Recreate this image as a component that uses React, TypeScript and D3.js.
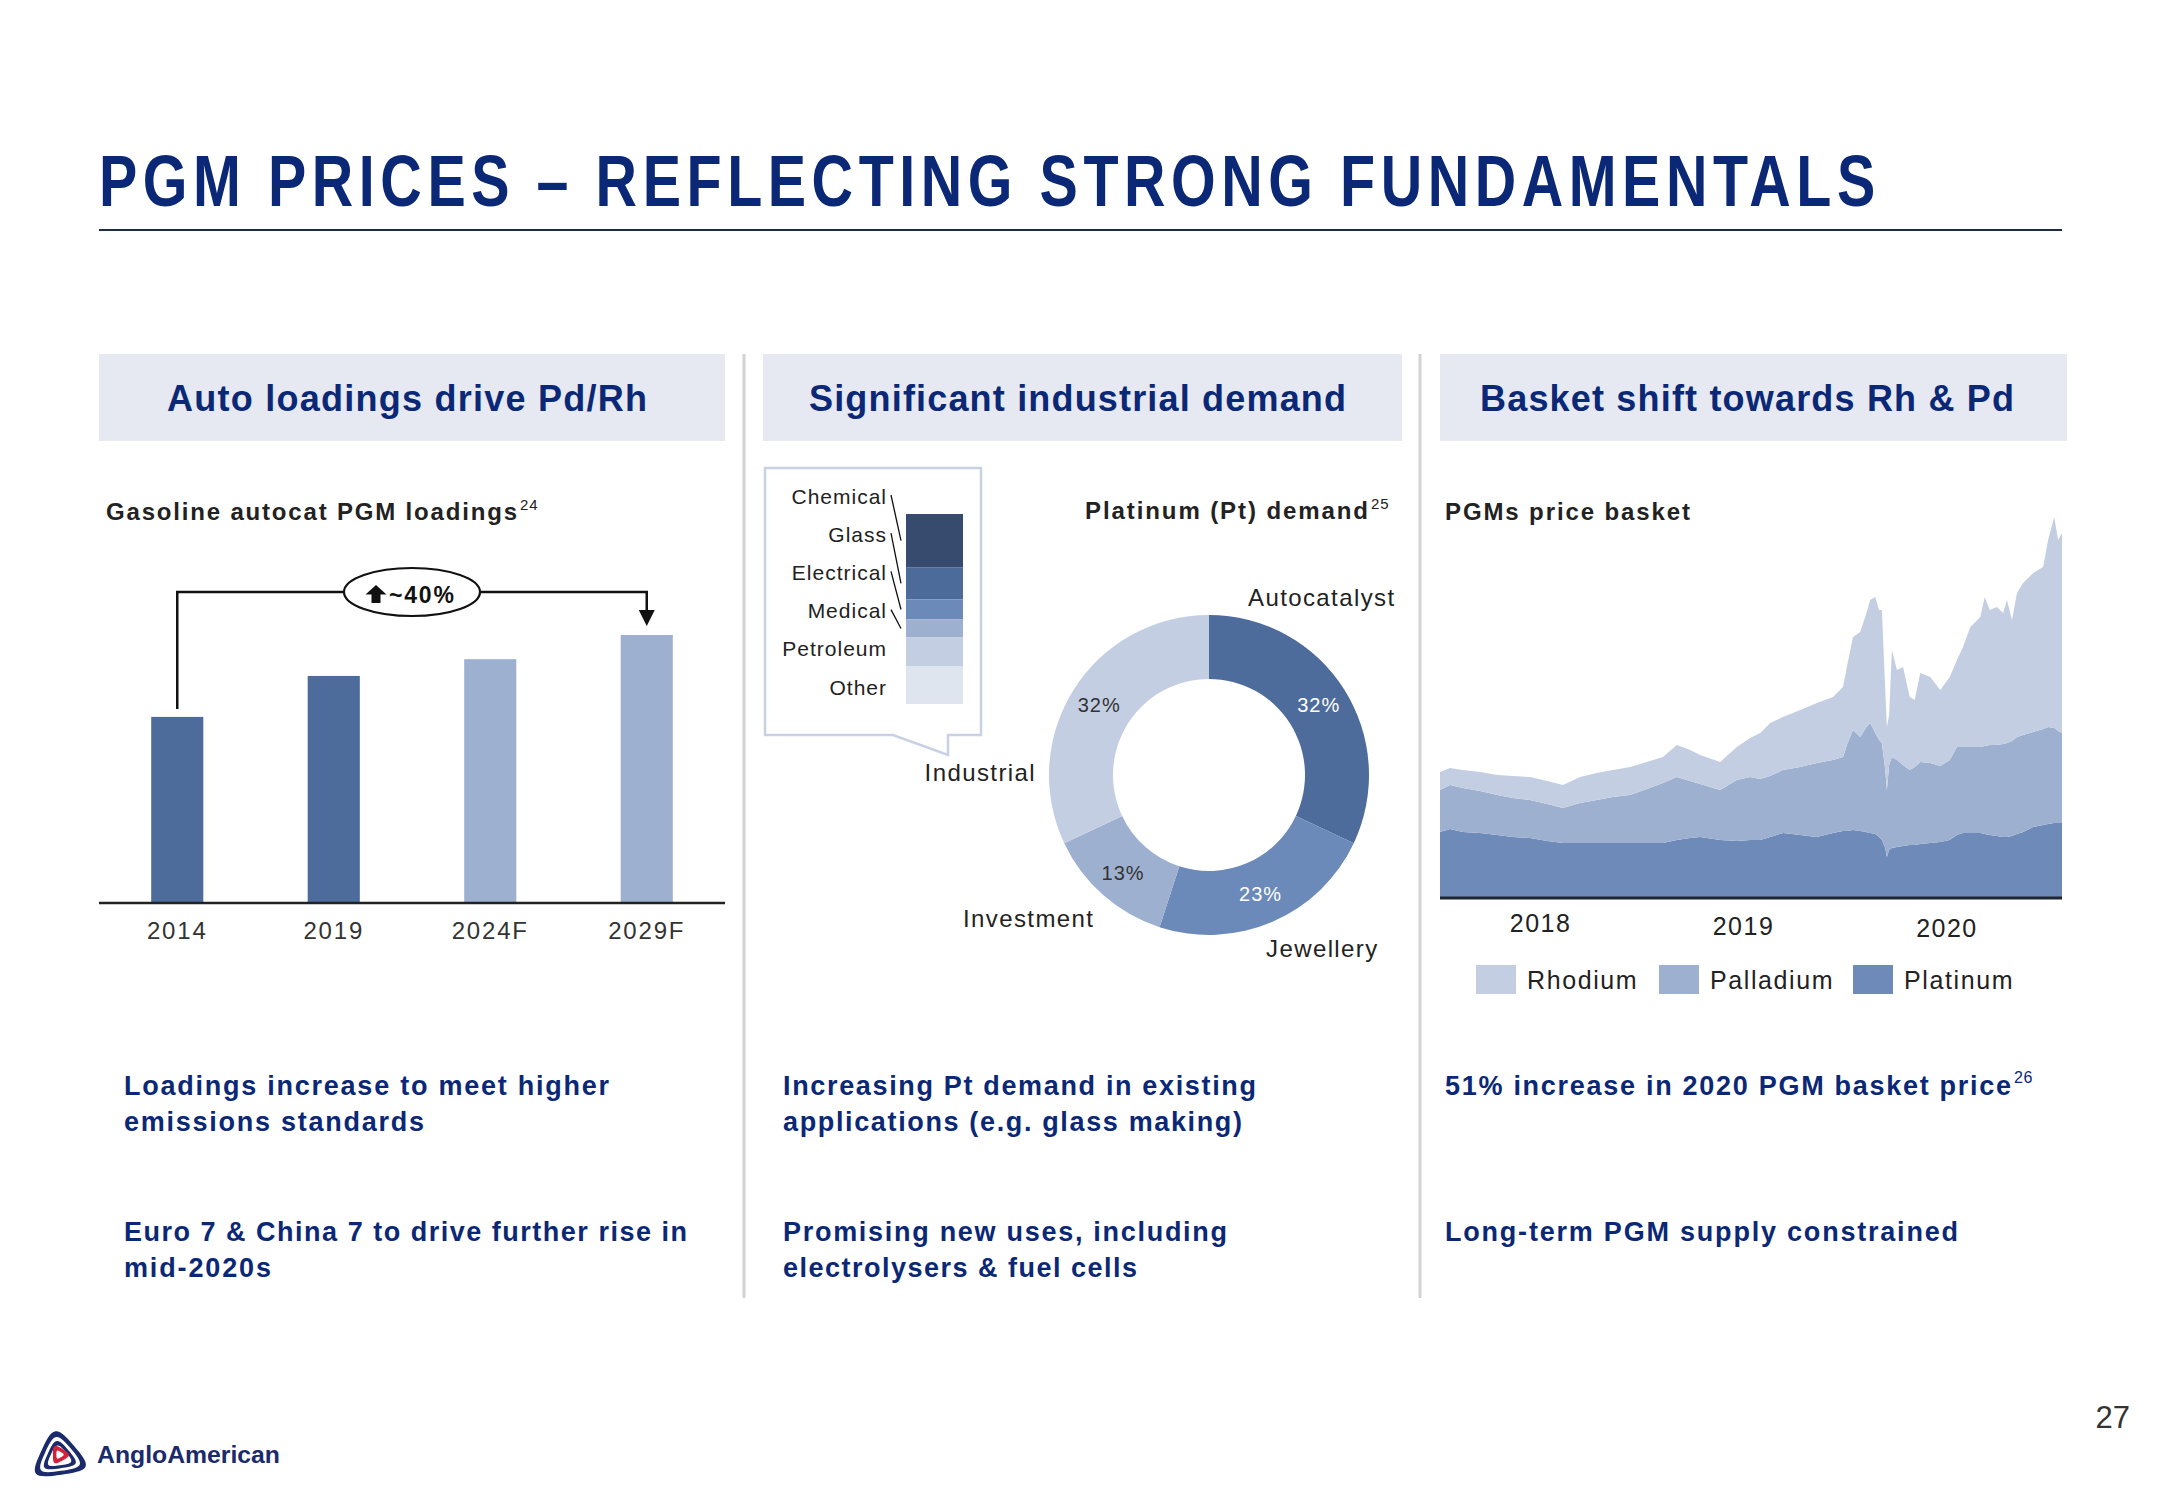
import React from 'react';
import * as d3 from 'd3';

// ---------------- DATA ----------------
const loadingYears = ['2014', '2019', '2024F', '2029F'];
const loadingIndex = [100, 122, 131, 144];
const loadingForecast = [false, false, true, true];
const loadingChangeLabel = '~40%';

const ptDemandCats = ['Autocatalyst', 'Jewellery', 'Investment', 'Industrial'];
const ptDemandShare = [32, 23, 13, 32];

const industrialCats = ['Chemical', 'Glass', 'Electrical', 'Medical', 'Petroleum', 'Other'];
const industrialShare = [28, 17, 10.5, 9.5, 15, 20];

const basketDates = [
  '2018-01-01', '2018-01-19', '2018-02-11', '2018-03-14', '2018-04-14', '2018-05-12', '2018-06-12', '2018-07-13', '2018-08-10', '2018-09-10',
  '2018-10-10', '2018-11-08', '2018-12-09', '2019-01-08', '2019-02-06', '2019-03-03', '2019-03-27', '2019-04-14', '2019-05-20', '2019-06-19',
  '2019-07-13', '2019-07-31', '2019-08-18', '2019-09-10', '2019-10-11', '2019-11-10', '2019-12-09', '2019-12-27', '2020-01-03', '2020-01-14',
  '2020-01-27', '2020-02-06', '2020-02-14', '2020-02-23', '2020-03-01', '2020-03-06', '2020-03-12', '2020-03-15', '2020-03-19', '2020-03-24',
  '2020-04-02', '2020-04-13', '2020-04-25', '2020-05-04', '2020-05-14', '2020-06-01', '2020-06-19', '2020-07-06', '2020-07-19', '2020-07-30',
  '2020-08-12', '2020-08-30', '2020-09-07', '2020-09-16', '2020-09-29', '2020-10-10', '2020-10-17', '2020-10-26', '2020-11-04', '2020-11-15',
  '2020-12-03', '2020-12-21', '2020-12-30', '2021-01-10', '2021-01-17', '2021-01-24',
];
const platinum = [
  660, 690, 660, 650, 630, 610, 600, 570, 550, 550,
  550, 550, 550, 550, 550, 580, 600, 610, 580, 570,
  580, 580, 610, 650, 630, 610, 650, 670, 670, 680,
  670, 660, 650, 640, 610, 580, 500, 410, 480, 500,
  510, 520, 530, 530, 540, 550, 560, 580, 630, 650,
  650, 650, 640, 630, 620, 610, 610, 620, 640, 660,
  710, 730, 740, 750, 750, 750,
];
const palladium = [
  420, 440, 440, 420, 400, 390, 380, 370, 350, 400,
  430, 460, 480, 540, 600, 630, 570, 530, 500, 610,
  630, 610, 610, 630, 680, 740, 730, 740, 860, 1000,
  940, 1040, 1100, 1010, 970, 970, 780, 670, 850, 910,
  870, 810, 750, 780, 820, 800, 760, 800, 880, 860,
  860, 860, 880, 900, 910, 930, 940, 950, 970, 970,
  950, 960, 970, 950, 920, 900,
];
const rhodium = [
  180, 170, 180, 190, 200, 220, 230, 230, 230, 260,
  270, 270, 280, 270, 260, 320, 310, 290, 280, 330,
  390, 460, 530, 530, 570, 600, 630, 700, 780, 930,
  1050, 1130, 1230, 1360, 1300, 1330, 800, 630, 500, 1070,
  900, 980, 730, 670, 890, 860, 760, 830, 870, 1000,
  1200, 1300, 1490, 1350, 1380, 1310, 1430, 1210, 1440, 1520,
  1590, 1620, 1870, 2110, 1910, 2000,
];
const basketKeys = ['platinum', 'palladium', 'rhodium'];
const basketLegend = ['Rhodium', 'Palladium', 'Platinum'];
const basketTicks = ['2018-07-01', '2019-07-01', '2020-07-01'];
const basketTickLabels = ['2018', '2019', '2020'];

const pageTitle = 'PGM PRICES \u2013 REFLECTING STRONG FUNDAMENTALS';
const panelHeaders = ['Auto loadings drive Pd/Rh', 'Significant industrial demand', 'Basket shift towards Rh & Pd'];
const bulletsP1 = [['Loadings increase to meet higher', 'emissions standards'], ['Euro 7 & China 7 to drive further rise in', 'mid-2020s']];
const bulletsP2 = [['Increasing Pt demand in existing', 'applications (e.g. glass making)'], ['Promising new uses, including', 'electrolysers & fuel cells']];
const bulletsP3 = [['51% increase in 2020 PGM basket price'], ['Long-term PGM supply constrained']];

// ---------------- STYLE ----------------
const FONT = "'Liberation Sans', Arial, Helvetica, sans-serif";
const NAVY = '#0b2877';
const DARK = '#222222';
const C_DARK_BAR = '#4e6c9b';
const C_LIGHT_BAR = '#9db0cf';
const DONUT_COLORS = ['#4e6c9b', '#6b8aba', '#9db0cf', '#c3cee2'];
const MINI_COLORS = ['#364b6e', '#4c6a9a', '#6b8aba', '#9db0cf', '#c3cee2', '#dfe5ef'];
const AREA_COLORS: Record<string, string> = { platinum: '#6d8ab8', palladium: '#9eb0cf', rhodium: '#c4cee2' };
const LEGEND_COLORS: Record<string, string> = { Rhodium: '#c4cee2', Palladium: '#9eb0cf', Platinum: '#6d8ab8' };

type TP = {
  x: number; y: number; w?: number; size: number; weight?: number | string; fill?: string;
  anchor?: 'start' | 'middle' | 'end'; ls?: number; family?: string; adjust?: 'spacing' | 'spacingAndGlyphs';
  children: React.ReactNode;
};
function Txt({ x, y, w, size, weight = 400, fill = DARK, anchor = 'start', ls = 0, family = FONT, adjust = 'spacing', children }: TP) {
  const extra: any = {};
  if (w) { extra.textLength = w; extra.lengthAdjust = adjust; }
  return (
    <text x={x} y={y} fontSize={size} fontWeight={weight} fill={fill} textAnchor={anchor}
      letterSpacing={ls} fontFamily={family} {...extra}>{children}</text>
  );
}

// text squeezed horizontally to a target width via a measured scale transform
function FitText({ x, y, w, size, weight = 400, fill = DARK, ls = 0, children }: TP) {
  const ref = React.useRef<SVGTextElement>(null);
  const [k, setK] = React.useState(0.816);
  React.useLayoutEffect(() => {
    if (ref.current && w) {
      const len = ref.current.getComputedTextLength();
      if (len > 0) setK(w / len);
    }
  }, [w]);
  return (
    <g transform={`translate(${x},${y}) scale(${k},1)`}>
      <text ref={ref} x={0} y={0} fontSize={size} fontWeight={weight} fill={fill} letterSpacing={ls} fontFamily={FONT}>{children}</text>
    </g>
  );
}

// logo helper
const logoTri: [number, number][] = [[55, 1428], [33, 1476], [89, 1468]];
function roundedTri(pts: [number, number][], k: number) {
  const cx = d3.mean(pts, (p) => p[0]) as number;
  const cy = d3.mean(pts, (p) => p[1]) as number;
  const v = pts.map(([x, y]) => [cx + (x - cx) * k, cy + (y - cy) * k] as [number, number]);
  const all: [number, number][] = [];
  for (let i = 0; i < 3; i++) {
    const a = v[i], b = v[(i + 1) % 3];
    all.push(a);
    all.push([(a[0] + b[0]) / 2, (a[1] + b[1]) / 2]);
  }
  return d3.line().curve(d3.curveBasisClosed)(all) as string;
}

export default function App() {
  // ----- Panel 1: bars -----
  const xBar = d3.scaleBand<string>().domain(loadingYears).range([99, 725]).paddingInner(0.667).paddingOuter(0.3335);
  const yBar = d3.scaleLinear().domain([0, 144]).range([903, 635]);
  const cx = (k: string) => (xBar(k) as number) + xBar.bandwidth() / 2;
  const bx1 = cx(loadingYears[0]);
  const bx2 = cx(loadingYears[3]);
  const bracketY = yBar(loadingIndex[3]) - 43;
  const arrowTip = yBar(loadingIndex[3]) - 9;
  const ellX = (bx1 + bx2) / 2;

  // ----- Panel 2: donut -----
  const dcx = 1209, dcy = 775;
  const pie = d3.pie<number>().sort(null).value((d) => d)(ptDemandShare);
  const arc = d3.arc<d3.PieArcDatum<number>>().innerRadius(96).outerRadius(160);
  const labelArc = d3.arc<d3.PieArcDatum<number>>().innerRadius(130).outerRadius(130);

  const yMini = d3.scaleLinear().domain([0, d3.sum(industrialShare)]).range([514, 704]);
  const miniCum: number[] = [];
  industrialShare.reduce((acc, v) => { miniCum.push(acc); return acc + v; }, 0);

  // ----- Panel 3: stacked area -----
  const parse = d3.utcParse('%Y-%m-%d');
  const n = Math.min(basketDates.length, platinum.length, palladium.length, rhodium.length);
  const rows = d3.range(n).map((i) => ({
    date: parse(basketDates[i]) as Date,
    platinum: platinum[i], palladium: palladium[i], rhodium: rhodium[i],
  }));
  const xT = d3.scaleUtc().domain([parse('2018-01-01') as Date, parse('2021-01-24') as Date]).range([1440, 2062]);
  const yA = d3.scaleLinear().domain([0, 4000]).range([898, 498]);
  const series = d3.stack<any>().keys(basketKeys)(rows);
  const area = d3.area<any>().x((d) => xT(d.data.date)).y0((d) => yA(d[0])).y1((d) => yA(d[1])).curve(d3.curveLinear);

  const bulletX = [124, 783, 1445];
  const bulletW = [
    [[485, 300], [563, 147]],
    [[473, 459], [444, 354]],
    [[566], [513]],
  ];
  const bulletSets = [bulletsP1, bulletsP2, bulletsP3];
  const bulletBase = [1095, 1241];

  const headerBoxes = [[99, 725], [763, 1402], [1440, 2067]];
  const headerText = [[167, 480], [809, 537], [1480, 534]];

  return (
    <svg width={2166} height={1500} style={{ position: 'absolute', left: 0, top: 0, background: '#ffffff' }} fontFamily={FONT}>
      <rect x={0} y={0} width={2166} height={1500} fill="#ffffff" />
      {/* Title */}
      <FitText x={99} y={206} w={1782} size={72} weight={700} fill={NAVY} ls={7}>{pageTitle}</FitText>
      <line x1={99} x2={2062} y1={230} y2={230} stroke="#1c2b4a" strokeWidth={2} />

      {/* separators */}
      <line x1={744} x2={744} y1={354} y2={1298} stroke="#d3d3d3" strokeWidth={3} />
      <line x1={1420} x2={1420} y1={354} y2={1298} stroke="#d3d3d3" strokeWidth={3} />

      {/* headers */}
      {panelHeaders.map((h, i) => (
        <g key={h}>
          <rect x={headerBoxes[i][0]} y={354} width={headerBoxes[i][1] - headerBoxes[i][0]} height={87} fill="#e6e9f2" />
          <Txt x={headerText[i][0]} y={411} w={headerText[i][1]} size={36} weight={700} fill={NAVY}>{h}</Txt>
        </g>
      ))}

      {/* ---------- Panel 1 ---------- */}
      <Txt x={106} y={520} w={411} size={24} weight={700} fill={DARK}>Gasoline autocat PGM loadings</Txt>
      <Txt x={520} y={510} size={15} fill={DARK} ls={1}>24</Txt>
      {loadingYears.map((k, i) => (
        <rect key={k} x={xBar(k)} y={yBar(loadingIndex[i])} width={xBar.bandwidth()} height={yBar(0) - yBar(loadingIndex[i])}
          fill={loadingForecast[i] ? C_LIGHT_BAR : C_DARK_BAR} />
      ))}
      <line x1={99} x2={725} y1={yBar(0)} y2={yBar(0)} stroke={DARK} strokeWidth={2.5} />
      {loadingYears.map((k) => (
        <Txt key={k} x={cx(k)} y={939} size={24} anchor="middle" ls={1.8} fill="#333">{k}</Txt>
      ))}
      {/* bracket */}
      <path d={`M${bx1},${yBar(loadingIndex[0]) - 8} V${bracketY} H${bx2} V${arrowTip - 14}`} fill="none" stroke="#111" strokeWidth={2.5} />
      <path d={`M${bx2 - 8},${arrowTip - 16} L${bx2 + 8},${arrowTip - 16} L${bx2},${arrowTip} Z`} fill="#111" />
      <ellipse cx={ellX} cy={bracketY} rx={68} ry={24} fill="#fff" stroke="#111" strokeWidth={2.2} />
      <path d={`M${ellX - 36},${bracketY - 7} L${ellX - 46.5},${bracketY + 2.5} H${ellX - 40.5} V${bracketY + 11} H${ellX - 31.5} V${bracketY + 2.5} H${ellX - 25.5} Z`} fill="#111" />
      <Txt x={ellX - 23} y={bracketY + 11} size={23} weight={700} ls={1.8} fill="#111">{loadingChangeLabel}</Txt>

      {/* ---------- Panel 2 ---------- */}
      <path d="M765,468 H981 V735 H948 V755 L893,735 H765 Z" fill="#fff" stroke="#c8d1e4" strokeWidth={2.5} />
      {industrialCats.map((c, i) => (
        <rect key={c} x={906} y={yMini(miniCum[i])} width={57} height={yMini(miniCum[i] + industrialShare[i]) - yMini(miniCum[i])} fill={MINI_COLORS[i]} />
      ))}
      {industrialCats.map((c, i) => {
        const cy = 496 + i * 38.2;
        return (
          <g key={c}>
            <Txt x={887} y={cy + 7.5} size={21} anchor="end" ls={1} fill={DARK}>{c}</Txt>
            {i < 4 && (
              <line x1={891} y1={cy - 1} x2={901} y2={yMini(miniCum[i] + industrialShare[i] / 2)} stroke="#111" strokeWidth={1.3} />
            )}
          </g>
        );
      })}
      <Txt x={1085} y={519} w={283} size={24} weight={700} fill={DARK}>Platinum (Pt) demand</Txt>
      <Txt x={1371} y={509} size={15} fill={DARK} ls={1}>25</Txt>
      <g transform={`translate(${dcx},${dcy})`}>
        {pie.map((p, i) => (
          <path key={ptDemandCats[i]} d={arc(p) as string} fill={DONUT_COLORS[i]} />
        ))}
        {pie.map((p, i) => {
          const [lx, ly] = labelArc.centroid(p);
          return (
            <text key={'l' + i} x={lx} y={ly + 7} textAnchor="middle" fontSize={20} letterSpacing={1}
              fill={i < 2 ? '#ffffff' : '#333'} fontFamily={FONT}>{ptDemandShare[i]}%</text>
          );
        })}
      </g>
      <Txt x={1248} y={606} size={24} ls={1.4} fill={DARK}>{ptDemandCats[0]}</Txt>
      <Txt x={1266} y={957} size={24} ls={1.4} fill={DARK}>{ptDemandCats[1]}</Txt>
      <Txt x={963} y={927} size={24} ls={1.4} fill={DARK}>{ptDemandCats[2]}</Txt>
      <Txt x={1036} y={781} size={24} ls={1.4} anchor="end" fill={DARK}>{ptDemandCats[3]}</Txt>

      {/* ---------- Panel 3 ---------- */}
      <Txt x={1445} y={520} w={245} size={24} weight={700} fill={DARK}>PGMs price basket</Txt>
      {series.map((s) => (
        <path key={s.key} d={area(s as any) as string} fill={AREA_COLORS[s.key]} />
      ))}
      <line x1={1440} x2={2062} y1={yA(0)} y2={yA(0)} stroke="#1e2530" strokeWidth={3} />
      {basketTicks.map((t, i) => (
        <Txt key={t} x={xT(parse(t) as Date)} y={932 + i * 2.5} size={25} anchor="middle" ls={1.5} fill={DARK}>{basketTickLabels[i]}</Txt>
      ))}
      {basketLegend.map((l, i) => {
        const lx = [1476, 1659, 1853][i];
        return (
          <g key={l}>
            <rect x={lx} y={965} width={40} height={29} fill={LEGEND_COLORS[l]} />
            <Txt x={lx + 51} y={989} size={25} ls={1.6} fill={DARK}>{l}</Txt>
          </g>
        );
      })}

      {/* ---------- Bottom bullets ---------- */}
      {bulletSets.map((set, p) => set.map((lines, b) => lines.map((line, li) => (
        <Txt key={`${p}-${b}-${li}`} x={bulletX[p]} y={bulletBase[b] + li * 36} w={bulletW[p][b][li]} size={27} weight={700} fill={NAVY}>{line}</Txt>
      ))))}
      <Txt x={2014} y={1083} size={16} fill={NAVY} ls={0.5}>26</Txt>

      {/* page number */}
      <Txt x={2130} y={1428} size={31} anchor="end" fill="#333">27</Txt>

      {/* logo */}
      <path d={roundedTri(logoTri, 1.18)} fill="#1b2a6b" />
      <path d={roundedTri(logoTri, 0.92)} fill="#ffffff" />
      <path d={roundedTri(logoTri, 0.74)} fill="#1b2a6b" />
      <path d={roundedTri(logoTri, 0.54)} fill="#ffffff" />
      <path d={roundedTri([[54, 1445], [54, 1464], [70, 1455]], 1.2)} fill="#d3213a" />
      <path d={roundedTri([[54, 1445], [54, 1464], [70, 1455]], 0.55)} fill="#ffffff" />
      <FitText x={97} y={1463} w={183} size={23} weight={700} fill="#1b2a6b">AngloAmerican</FitText>
    </svg>
  );
}
